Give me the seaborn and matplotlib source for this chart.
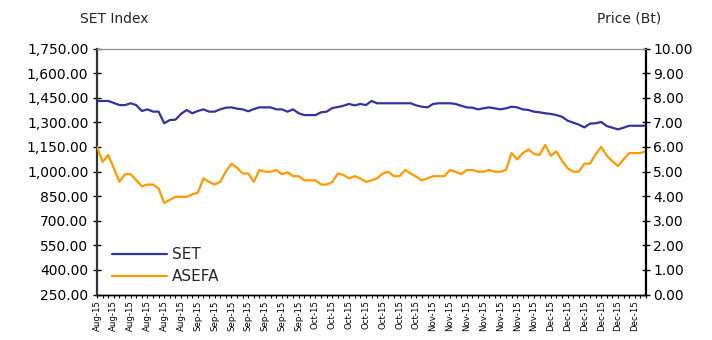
import matplotlib
matplotlib.use("Agg")
import numpy as np
import pandas as pd
import matplotlib.pyplot as plt
import seaborn as sns
from matplotlib.ticker import FixedLocator, FuncFormatter
from matplotlib.lines import Line2D

# ---- data ----
tick_labels = (["Aug-15"] * 6 + ["Sep-15"] * 7 + ["Oct-15"] * 7 +
               ["Nov-15"] * 7 + ["Dec-15"] * 6)

set_index = [1430, 1430, 1430, 1418, 1405, 1405, 1416, 1405, 1369, 1379,
             1365, 1365, 1294, 1314, 1316, 1351, 1375, 1355, 1369, 1379,
             1365, 1365, 1379, 1389, 1391, 1383, 1379, 1367, 1381, 1391,
             1391, 1391, 1379, 1379, 1365, 1379, 1355, 1344, 1344, 1344,
             1361, 1365, 1387, 1393, 1401, 1412, 1403, 1412, 1405, 1430,
             1416, 1416, 1416, 1416, 1416, 1416, 1416, 1403, 1395, 1391,
             1412, 1416, 1416, 1416, 1412, 1401, 1391, 1389, 1379, 1385,
             1391, 1385, 1379, 1385, 1395, 1391, 1379, 1375, 1365, 1361,
             1355, 1351, 1344, 1334, 1310, 1298, 1286, 1269, 1292, 1294,
             1302, 1277, 1267, 1257, 1267, 1279, 1279, 1279, 1279]

asefa = [6.00, 5.39, 5.67, 5.14, 4.58, 4.89, 4.89, 4.65, 4.40, 4.47,
         4.47, 4.31, 3.72, 3.85, 3.97, 3.97, 3.97, 4.07, 4.14, 4.72,
         4.58, 4.47, 4.58, 5.00, 5.32, 5.15, 4.92, 4.92, 4.58, 5.06,
         4.99, 4.99, 5.06, 4.89, 4.97, 4.81, 4.81, 4.64, 4.64, 4.64,
         4.47, 4.47, 4.57, 4.92, 4.86, 4.72, 4.81, 4.72, 4.58, 4.64,
         4.72, 4.92, 4.99, 4.81, 4.81, 5.06, 4.92, 4.79, 4.64, 4.72,
         4.81, 4.81, 4.81, 5.06, 4.99, 4.89, 5.06, 5.06, 4.99, 4.99,
         5.06, 4.99, 4.99, 5.06, 5.75, 5.49, 5.75, 5.89, 5.72, 5.67,
         6.08, 5.64, 5.82, 5.44, 5.14, 4.99, 4.99, 5.32, 5.32, 5.69,
         6.00, 5.64, 5.42, 5.22, 5.49, 5.75, 5.75, 5.75, 5.82]

left_ticks = [250, 400, 550, 700, 850, 1000, 1150, 1300, 1450, 1600, 1750]
right_ticks = [0, 1, 2, 3, 4, 5, 6, 7, 8, 9, 10]

df = pd.DataFrame({"day": np.arange(len(set_index)),
                   "SET": set_index, "ASEFA": asefa})

SET_COLOR = "#333399"
ASEFA_COLOR = "#FF9900"

sns.set_theme(style="white")
plt.rcParams["font.family"] = ["DejaVu Sans"]

fig = plt.figure(figsize=(7.12, 3.4), dpi=100)
ax = fig.add_axes([97 / 712, 1 - 294.5 / 340, 549 / 712, 246 / 340])
ax2 = ax.twinx()

sns.lineplot(data=df, x="day", y="SET", ax=ax, color=SET_COLOR, lw=1.6)
sns.lineplot(data=df, x="day", y="ASEFA", ax=ax2, color=ASEFA_COLOR, lw=1.6)

n = len(df)
ax.set_xlim(0, n - 1)
ax.set_ylim(left_ticks[0], left_ticks[-1])
ax2.set_ylim(right_ticks[0], right_ticks[-1])

ax.yaxis.set_major_locator(FixedLocator(left_ticks))
ax.yaxis.set_major_formatter(FuncFormatter(lambda v, p: f"{v:,.2f}"))
ax2.yaxis.set_major_locator(FixedLocator(right_ticks))
ax2.yaxis.set_major_formatter(FuncFormatter(lambda v, p: f"{v:.2f}"))

major = np.arange(0, n, 3)[:len(tick_labels)]
ax.xaxis.set_major_locator(FixedLocator(major))
ax.set_xticklabels(tick_labels, rotation=90)
ax.xaxis.set_minor_locator(FixedLocator(np.arange(n)))

for a in (ax, ax2):
    a.set_xlabel("")
    a.set_ylabel("")
    a.grid(False)

ax.tick_params(axis="y", direction="inout", length=6, width=1,
               labelsize=10, pad=3.2, colors="black", left=True)
ax.tick_params(axis="x", which="both", direction="out", length=2.5, width=0.8,
               labelsize=6.2, pad=1.5, bottom=True, colors="black")
ax2.tick_params(axis="y", direction="inout", length=6, width=1,
                labelsize=10, pad=2.0, colors="black", right=True)

for a in (ax, ax2):
    a.spines["top"].set_color("#8c8c8c")
    a.spines["top"].set_linewidth(0.8)
    a.spines["bottom"].set_color("black")
    a.spines["bottom"].set_linewidth(1.0)
ax.spines["left"].set_color("#333333")
ax.spines["left"].set_linewidth(1.6)
ax.spines["right"].set_visible(False)
ax2.spines["left"].set_visible(False)
ax2.spines["right"].set_color("black")
ax2.spines["right"].set_linewidth(1.6)

handles = [Line2D([], [], color=SET_COLOR, lw=1.6),
           Line2D([], [], color=ASEFA_COLOR, lw=1.6)]
ax2.legend(handles, ["SET", "ASEFA"], loc="center left",
           bbox_to_anchor=(0.027, 0.117), frameon=False, fontsize=11,
           handlelength=3.6, handletextpad=0.35, labelspacing=0.45,
           borderpad=0, borderaxespad=0)

fig.text(80 / 712, 1 - 19 / 340, "SET Index", ha="left", va="center",
         fontsize=10)
fig.text(597 / 712, 1 - 19 / 340, "Price (Bt)", ha="left", va="center",
         fontsize=10)

fig.savefig("out.png", dpi=100, facecolor="white")
